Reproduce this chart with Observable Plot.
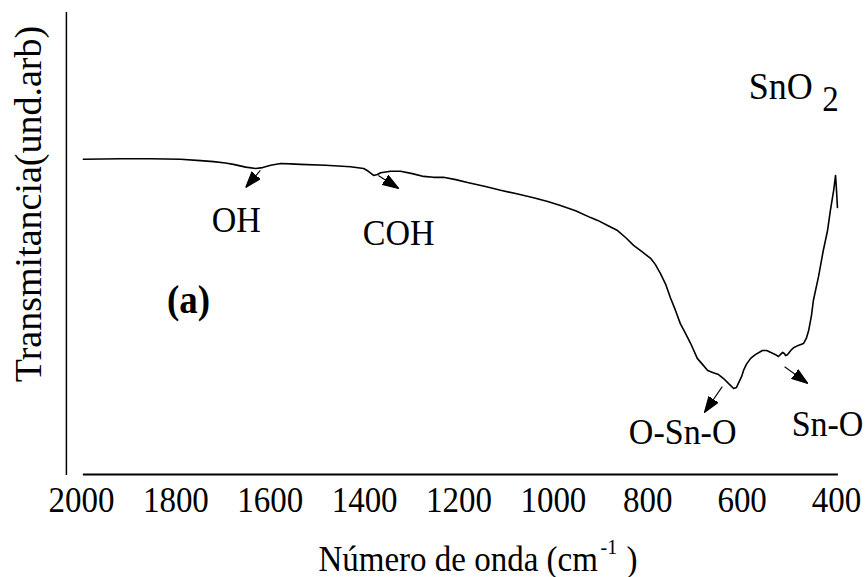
<!DOCTYPE html>
<html><head><meta charset="utf-8">
<script src="https://cdn.jsdelivr.net/npm/d3@7"></script>
<script src="https://cdn.jsdelivr.net/npm/@observablehq/plot@0.6"></script>
<style>html,body{margin:0;padding:0;background:#fff} svg text{font-family:"Liberation Serif","Times New Roman",serif !important}</style>
</head><body><div id="chart"></div>
<script>
// FTIR spectrum of SnO2 (arbitrary transmittance units)
const wavenumber = [1996,1917,1854,1790,1748,1720,1695,1678,1652,1631,1616,1599,1578,1557,1536,1483,1430,1402,1392,1381,1373,1366,1345,1324,1299,1275,1254,1233,1207,1182,1144,1112,1080,1042,1012,985,953,921,906,885,864,847,830,813,794,784,773,762,752,741,731,720,709,695,684,673,661,650,640,629,618,612,608,601,597,591,582,572,557,548,540,529,523,519,514,510,508,504,497,491,481,470,464,459,453,449,438,428,419,413,406,402,400,398];
const transmittance = [68.3,68.4,68.4,68.3,68.0,67.8,67.5,67.2,66.6,66.3,66.5,67.0,67.4,67.3,67.2,67.0,66.7,66.3,65.7,64.8,65.0,65.4,65.7,65.7,65.2,64.6,64.4,64.4,63.9,63.3,62.4,61.6,60.9,60.0,59.2,58.3,57.2,55.7,55.1,54.0,52.9,51.4,49.7,48.4,46.9,45.6,43.6,41.3,38.4,35.6,32.8,30.7,28.5,25.3,24.0,22.7,22.2,21.8,21.0,19.9,18.8,19.0,19.9,21.4,22.7,24.0,25.3,26.1,27.0,27.0,26.6,26.1,25.7,26.1,26.6,26.3,25.9,26.1,27.0,27.6,28.1,28.5,29.6,31.3,34.6,37.8,43.0,48.6,52.9,57.2,61.6,64.8,61.6,57.9];
const tickValues = [2000,1800,1600,1400,1200,1000,800,600,400];

// band annotations
const bandLabels = ["OH","COH","O-Sn-O","Sn-O"];
const bandX = [1672,1328,726,419];
const bandY = [52.5,49.7,6.9,8.6];
// arrows (from curve towards label)
const arrowX1 = [1621,1371,642,510];
const arrowY1 = [65.9,64.8,19.2,23.5];
const arrowX2 = [1652,1328,680,461];
const arrowY2 = [62.2,62.0,13.6,19.9];

const spectrum = wavenumber.map((w,i)=>({w, t: transmittance[i]}));
const bands = bandLabels.map((label,i)=>({label, x: bandX[i], y: bandY[i]}));
const arrows = arrowX1.map((x1,i)=>({x1, y1: arrowY1[i], x2: arrowX2[i], y2: arrowY2[i]}));

const FONT = "Liberation Serif";
const STRETCH = 1.08; // glyphs in the original figure are slightly taller than wide

function filledArrow(color) {
  const ns = "http://www.w3.org/2000/svg";
  const m = document.createElementNS(ns, "marker");
  m.setAttribute("viewBox", "0 -6 16 12");
  m.setAttribute("markerWidth", 16);
  m.setAttribute("markerHeight", 12);
  m.setAttribute("markerUnits", "userSpaceOnUse");
  m.setAttribute("refX", 16);
  m.setAttribute("refY", 0);
  m.setAttribute("orient", "auto");
  const p = document.createElementNS(ns, "path");
  p.setAttribute("d", "M0,-5.5L16,0L0,5.5Z");
  p.setAttribute("fill", color);
  m.appendChild(p);
  return m;
}

function build(useMarker) {
  const arrowMark = useMarker
    ? Plot.link(arrows, {x1:"x1", y1:"y1", x2:"x2", y2:"y2", stroke:"black", strokeWidth:1.1, markerEnd: filledArrow})
    : Plot.arrow(arrows, {x1:"x1", y1:"y1", x2:"x2", y2:"y2", stroke:"black", strokeWidth:1.2, headLength:12});
  return Plot.plot({
    width: 867, height: 577,
    marginLeft: 81, marginRight: 31, marginTop: 12, marginBottom: 102,
    style: {fontFamily: FONT, background: "white", color: "black"},
    x: {domain: [2000, 400], axis: null},
    y: {domain: [0, 100], axis: null},
    marks: [
      Plot.axisX(tickValues, {tickSize: 0, tickPadding: 11, fontSize: 33, fontFamily: FONT, label: null, tickFormat: d => String(d)}),
      Plot.ruleY([0.2], {x1: 1996, x2: 396, stroke: "black", strokeWidth: 2}),
      Plot.ruleX([2032], {y1: 0, y2: 100, stroke: "black", strokeWidth: 1.5}),
      Plot.line(spectrum, {x: "w", y: "t", stroke: "black", strokeWidth: 1.6}),
      arrowMark,
      Plot.text(bands, {x: "x", y: "y", text: "label", textAnchor: "middle", lineAnchor: "bottom", fontSize: 34, fontFamily: FONT, fill: "black"}),
      Plot.text(["(a)"], {x: 1773, y: 35.0, textAnchor: "middle", lineAnchor: "bottom", fontSize: 37, fontWeight: "bold", fontFamily: FONT, fill: "black"}),
      Plot.text(["SnO"], {x: 586, y: 81.4, textAnchor: "start", lineAnchor: "bottom", fontSize: 36, fontFamily: FONT, fill: "black"}),
      Plot.text(["2"], {x: 430, y: 78.8, textAnchor: "start", lineAnchor: "bottom", fontSize: 33, fontFamily: FONT, fill: "black"}),
      Plot.text(["Transmitancia(und.arb)"], {frameAnchor: "left", dx: -53, dy: -40, rotate: -90, textAnchor: "middle", lineAnchor: "middle", fontSize: 38, fontFamily: FONT, fill: "black"}),
      Plot.text(["Número de onda (cm"], {frameAnchor: "bottom-left", dx: 237, dy: 95, textAnchor: "start", lineAnchor: "bottom", fontSize: 33, fontFamily: FONT, fill: "black"}),
      Plot.text(["-1"], {frameAnchor: "bottom-left", dx: 519, dy: 78, textAnchor: "start", lineAnchor: "bottom", fontSize: 20, fontFamily: FONT, fill: "black"}),
      Plot.text([")"], {frameAnchor: "bottom-left", dx: 545, dy: 95, textAnchor: "start", lineAnchor: "bottom", fontSize: 33, fontFamily: FONT, fill: "black"})
    ]
  });
}

let chart;
try { chart = build(true); } catch (e) { chart = build(false); }
// slight vertical stretch of horizontal text, like the original figure
chart.querySelectorAll("text").forEach(t => {
  const tr = t.getAttribute("transform") || "";
  if (tr.includes("rotate")) return;
  t.setAttribute("transform", (tr + ` scale(1,${STRETCH})`).trim());
});
document.getElementById("chart").appendChild(chart);
</script></body></html>
